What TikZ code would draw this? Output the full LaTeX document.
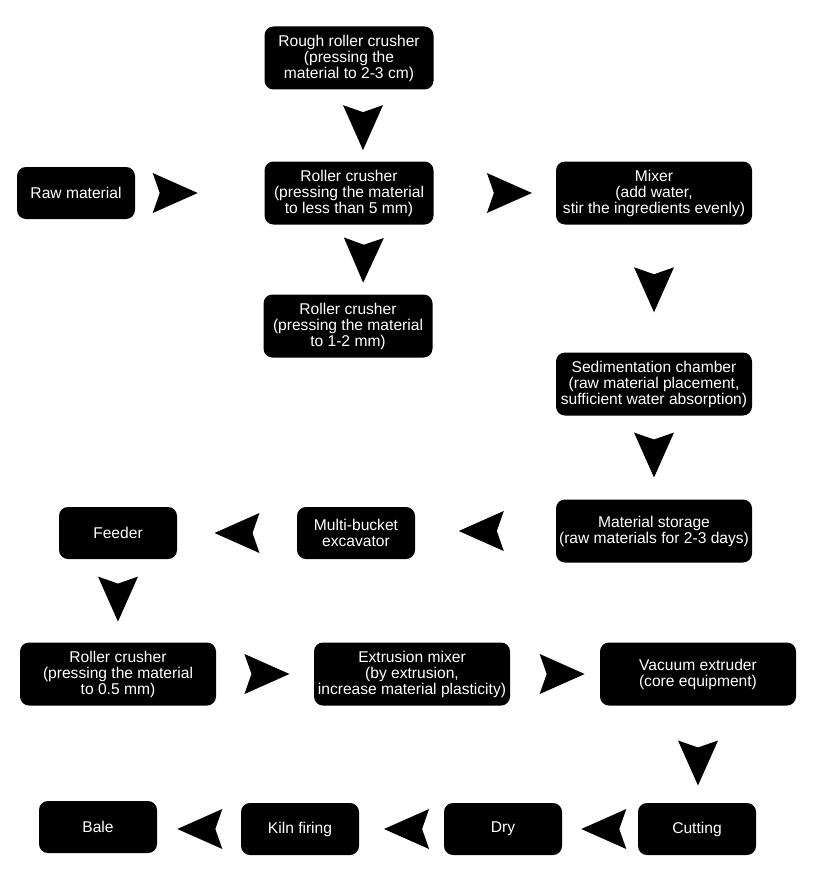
\documentclass[tikz,border=0pt]{standalone}
\usepackage{fontspec}
\setmainfont{Liberation Sans}
\usepackage{tikz}
\usetikzlibrary{decorations.markings}

\begin{document}
\begin{tikzpicture}[
    x=1pt, y=-1pt,
    box/.style={rectangle, fill=black, text=white, rounded corners=9pt, align=center, inner sep=0pt,
        font=\fontsize{15.6}{16}\selectfont},
    small/.style={box, minimum width=118pt, minimum height=52pt},
    wide/.style={box, minimum width=196pt, minimum height=63pt},
    mid/.style={box, minimum width=169pt, minimum height=63pt},
    chevron/.style={decoration={markings, mark=at position #1 with
        {\fill (22.5,0) -- (-22.5,20) -- (-15.5,0) -- (-22.5,-20) -- cycle;}}, decorate},
    chevron/.default=0.5
]
\useasboundingbox (0,0) rectangle (812,888);

% Crushing
\node[mid] (rough) at (349,58) {Rough roller crusher\\(pressing the\\material to 2-3 cm)};
\node[small] (raw) at (76,193) {Raw material};
\node[mid] (roll1) at (349,193) {Roller crusher\\(pressing the material\\to less than 5 mm)};
\node[mid] (roll2) at (348,326) {Roller crusher\\(pressing the material\\to 1-2 mm)};

% Mixing and storage
\node[wide] (mixer) at (654,193) {Mixer\\(add water,\\stir the ingredients evenly)};
\node[wide] (sed) at (654,384) {Sedimentation chamber\\(raw material placement,\\sufficient water absorption)};
\node[wide] (store) at (654,531) {Material storage\\(raw materials for 2-3 days)};
\node[small] (bucket) at (356,533) {Multi-bucket\\excavator};
\node[small] (feeder) at (118,533) {Feeder};

% Extrusion
\node[wide] (roll3) at (118,674) {Roller crusher\\(pressing the material\\to 0.5 mm)};
\node[wide] (extmix) at (412,674) {Extrusion mixer\\(by extrusion,\\increase material plasticity)};
\node[wide] (vac) at (698,674) {Vacuum extruder\\(core equipment)};

% Finishing
\node[small] (cut) at (697,829) {Cutting};
\node[small] (dry) at (503,829) {Dry};
\node[small] (kiln) at (300,829) {Kiln firing};
\node[small] (bale) at (98,827) {Bale};

% Flow
\path[chevron=0.31] (raw) -- (roll1);
\path[chevron=0.53] ([xshift=14pt]rough.south) -- ([xshift=14pt]roll1.north);
\path[chevron=0.62] (roll1) -- (mixer);
\path[chevron=0.51] ([xshift=15pt]roll1.south) -- ([xshift=15pt]roll2.north);
\path[chevron=0.51] (mixer) -- (sed);
\path[chevron=0.47] (sed) -- (store);
\path[chevron=0.53] (store.west) -- (store.west -| bucket.east);
\path[chevron=0.50] (bucket) -- (feeder);
\path[chevron=0.48] (feeder) -- (roll3);
\path[chevron=0.52] (roll3) -- (extmix);
\path[chevron=0.58] (extmix) -- (vac);
\path[chevron=0.59] (vac.south) -- (vac.south |- cut.north);
\path[chevron=0.45] (cut) -- (dry);
\path[chevron=0.44] (dry) -- (kiln);
\path[chevron=0.49] (kiln.west) -- (kiln.west -| bale.east);

\end{tikzpicture}
\end{document}
